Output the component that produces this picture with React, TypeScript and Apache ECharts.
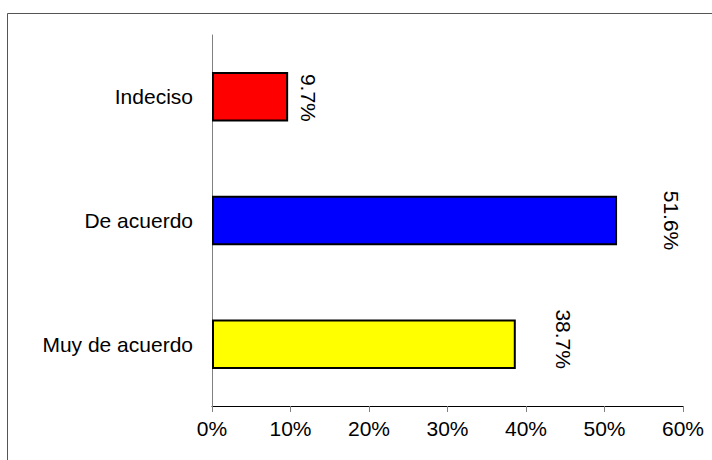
import React, { useEffect, useRef } from "react";
import * as echarts from "echarts";

// Response categories, listed bottom to top as ECharts draws a category y axis
const categories = ["Muy de acuerdo", "De acuerdo", "Indeciso"];
// Share of responses, in percent
const values = [38.7, 51.6, 9.7];
const barColors = ["#FFFF00", "#0000FF", "#FF0000"];
// How far each rotated value label sits past the end of its bar
const labelDistances = [48, 54, 20];
const labelOffsets: [number, number][] = [[-5, 0], [0, 0], [1, 0]];

const FONT = "'Liberation Sans', Arial, sans-serif";

export default function App() {
  const ref = useRef<HTMLDivElement>(null);

  useEffect(() => {
    if (!ref.current) return;
    const chart = echarts.init(ref.current, null, { renderer: "svg" });
    chart.setOption({
      animation: false,
      backgroundColor: "#ffffff",
      grid: { left: 212, right: 29, top: 35, bottom: 54, containLabel: false },
      graphic: [
        {
          type: "rect",
          shape: { x: 7.5, y: 13.5, width: 720, height: 470 },
          style: { fill: "none", stroke: "#555555", lineWidth: 1 },
          silent: true,
        },
      ],
      xAxis: {
        type: "value",
        min: 0,
        max: 60,
        interval: 10,
        axisLine: { show: true, lineStyle: { color: "#000000", width: 1 } },
        axisTick: { show: true, length: 6, lineStyle: { color: "#808080", width: 1 } },
        splitLine: { show: false },
        axisLabel: {
          formatter: "{value}%",
          color: "#000000",
          fontFamily: FONT,
          fontSize: 21,
          margin: 12,
        },
      },
      yAxis: {
        type: "category",
        data: categories,
        axisLine: { show: true, lineStyle: { color: "#808080", width: 1 } },
        axisTick: { show: false },
        axisLabel: {
          color: "#000000",
          fontFamily: FONT,
          fontSize: 21,
          margin: 19,
        },
      },
      series: [
        {
          type: "bar",
          barWidth: "40%",
          data: values.map((v, i) => ({
            value: v,
            itemStyle: { color: barColors[i], borderColor: "#000000", borderWidth: 2 },
            label: { distance: labelDistances[i], offset: labelOffsets[i] },
          })),
          label: {
            show: true,
            position: "right",
            rotate: -90,
            align: "center",
            verticalAlign: "middle",
            formatter: (p: any) => `${p.value.toFixed(1)}%`,
            color: "#000000",
            fontFamily: FONT,
            fontSize: 21,
          },
        },
      ],
    });
    return () => chart.dispose();
  }, []);

  return (
    <div
      ref={ref}
      style={{ position: "fixed", left: 0, top: 0, width: 712, height: 460 }}
    />
  );
}
